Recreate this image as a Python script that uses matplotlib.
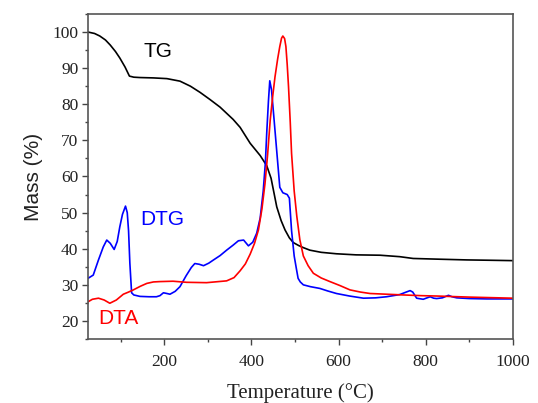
import matplotlib
matplotlib.use("Agg")
import matplotlib.pyplot as plt
from matplotlib.ticker import MultipleLocator

# TG (black)
tg_x = [25, 40, 52, 65, 76, 88, 98, 110, 120, 130, 144, 175, 206, 236, 260, 282, 305, 328, 358, 374,
        397, 420, 435, 445, 458, 468, 477, 487, 496, 508, 519, 534, 560, 595, 640, 695, 740, 771, 830, 894, 950, 1000]
tg_y = [100, 99.6, 98.9, 97.8, 96.4, 94.6, 92.8, 90.3, 87.8, 87.5, 87.4, 87.3, 87.1, 86.4, 85.0, 83.3, 81.3, 79.2, 75.8, 73.6,
        69.2, 65.8, 63.0, 59.5, 51.6, 47.8, 45.2, 43.0, 41.7, 40.9, 40.3, 39.6, 39.0, 38.6, 38.3, 38.2, 37.8, 37.3, 37.1, 36.9, 36.8, 36.7]

# DTG (blue)
dtg_x = [25, 37, 49, 60, 68, 76, 85, 92, 98, 104, 111, 115, 118, 121, 125, 130, 144, 165, 182, 190, 198, 206, 213, 225, 236,
         250, 262, 270, 280, 290, 302, 313, 328, 343, 358, 370, 382, 393, 403, 412, 420, 427, 432, 435, 439, 442, 446, 451, 458,
         465, 472, 482, 487, 492, 498, 503, 507, 512, 519, 535, 557, 575, 595, 625, 657, 685, 710, 740, 755, 764, 770, 779, 794,
         803, 810, 818, 825, 838, 852, 860, 871, 900, 940, 1000]
dtg_y = [31.8, 32.7, 36.9, 40.5, 42.4, 41.5, 39.8, 42.0, 46.1, 49.5, 51.8, 50.0, 45.0, 36.0, 27.8, 27.2, 26.8, 26.7, 26.7, 27.0, 27.8, 27.6, 27.4, 28.2, 29.5,
         32.5, 34.8, 35.9, 35.7, 35.3, 36.0, 36.9, 38.1, 39.6, 41.0, 42.2, 42.4, 40.8, 41.8, 44.3, 48.5, 56.0, 64.0, 72.0, 81.0, 86.5, 84.0, 77.0, 67.0,
         57.0, 55.5, 55.0, 54.0, 45.0, 38.0, 34.5, 31.8, 30.8, 30.0, 29.5, 29.0, 28.3, 27.6, 26.9, 26.3, 26.4, 26.7, 27.3, 28.0, 28.4, 28.0, 26.3, 26.0,
         26.4, 26.7, 26.3, 26.2, 26.4, 27.1, 26.7, 26.4, 26.2, 26.1, 26.1]

# DTA (red)
dta_x = [25, 35, 49, 62, 75, 90, 106, 118, 129, 145, 160, 175, 190, 220, 251, 297, 343, 360, 374, 386, 397, 407, 416, 424,
         431, 437, 443, 449, 454, 460, 465, 469, 472, 476, 479, 482, 485, 489, 492, 498, 504, 511, 519, 530, 542, 560, 580,
         603, 626, 650, 672, 710, 748, 790, 825, 900, 1000]
dta_y = [25.3, 26.0, 26.3, 25.8, 24.9, 25.8, 27.4, 28.0, 28.6, 29.6, 30.4, 30.8, 30.9, 31.0, 30.7, 30.6, 31.1, 32.0, 33.9, 35.8, 38.5, 41.5, 45.2, 51.0,
         58.0, 66.0, 75.6, 82.5, 87.6, 92.5, 96.0, 98.3, 98.9, 98.2, 96.0, 91.0, 84.9, 75.0, 66.4, 56.0, 49.0, 42.5, 38.0, 35.3, 33.2, 31.9, 30.9,
         29.8, 28.6, 28.0, 27.6, 27.4, 27.2, 27.0, 26.9, 26.6, 26.3]

xticks = [200, 400, 600, 800, 1000]
yticks = [20, 30, 40, 50, 60, 70, 80, 90, 100]

fig = plt.figure(figsize=(5.38, 4.03), dpi=100)
ax = fig.add_axes([0.1636, 0.1588, 0.7899, 0.8065])

ax.plot(tg_x, tg_y, color="black", lw=1.2)
ax.plot(dtg_x, dtg_y, color="#0000ff", lw=1.2)
ax.plot(dta_x, dta_y, color="#ff0000", lw=1.2)

ax.set_xlim(25, 1000)
ax.set_ylim(15, 105)
ax.set_xticks(xticks)
ax.set_yticks(yticks)
ax.xaxis.set_minor_locator(MultipleLocator(100))
ax.yaxis.set_minor_locator(MultipleLocator(5))

serif = "Liberation Serif"
sans = "Liberation Sans"
for lab in ax.get_xticklabels() + ax.get_yticklabels():
    lab.set_fontfamily(serif)
    lab.set_fontsize(12.5)
    lab.set_color("#222222")

ax.tick_params(which="major", direction="out", length=4, width=1, color="#444444")
ax.tick_params(axis="x", which="major", pad=7)
ax.tick_params(axis="y", which="major", pad=3)
ax.tick_params(which="minor", direction="out", length=2.5, width=1, color="#444444")
ax.tick_params(top=False, right=False)
for s in ax.spines.values():
    s.set_color("#555555")
    s.set_linewidth(1.2)

ax.set_xlabel("Temperature (°C)", fontfamily=serif, fontsize=15, color="#222222", labelpad=9)
ax.set_ylabel("Mass (%)", fontfamily=sans, fontsize=15, color="#222222", labelpad=7)

ax.text(0.165, 0.886, "TG", transform=ax.transAxes, fontfamily=sans, fontsize=15, color="black", ha="center", va="center")
ax.text(0.174, 0.369, "DTG", transform=ax.transAxes, fontfamily=sans, fontsize=15, color="#0000ff", ha="center", va="center")
ax.text(0.071, 0.062, "DTA", transform=ax.transAxes, fontfamily=sans, fontsize=15, color="#ff0000", ha="center", va="center")

fig.savefig("out.png", dpi=100)
